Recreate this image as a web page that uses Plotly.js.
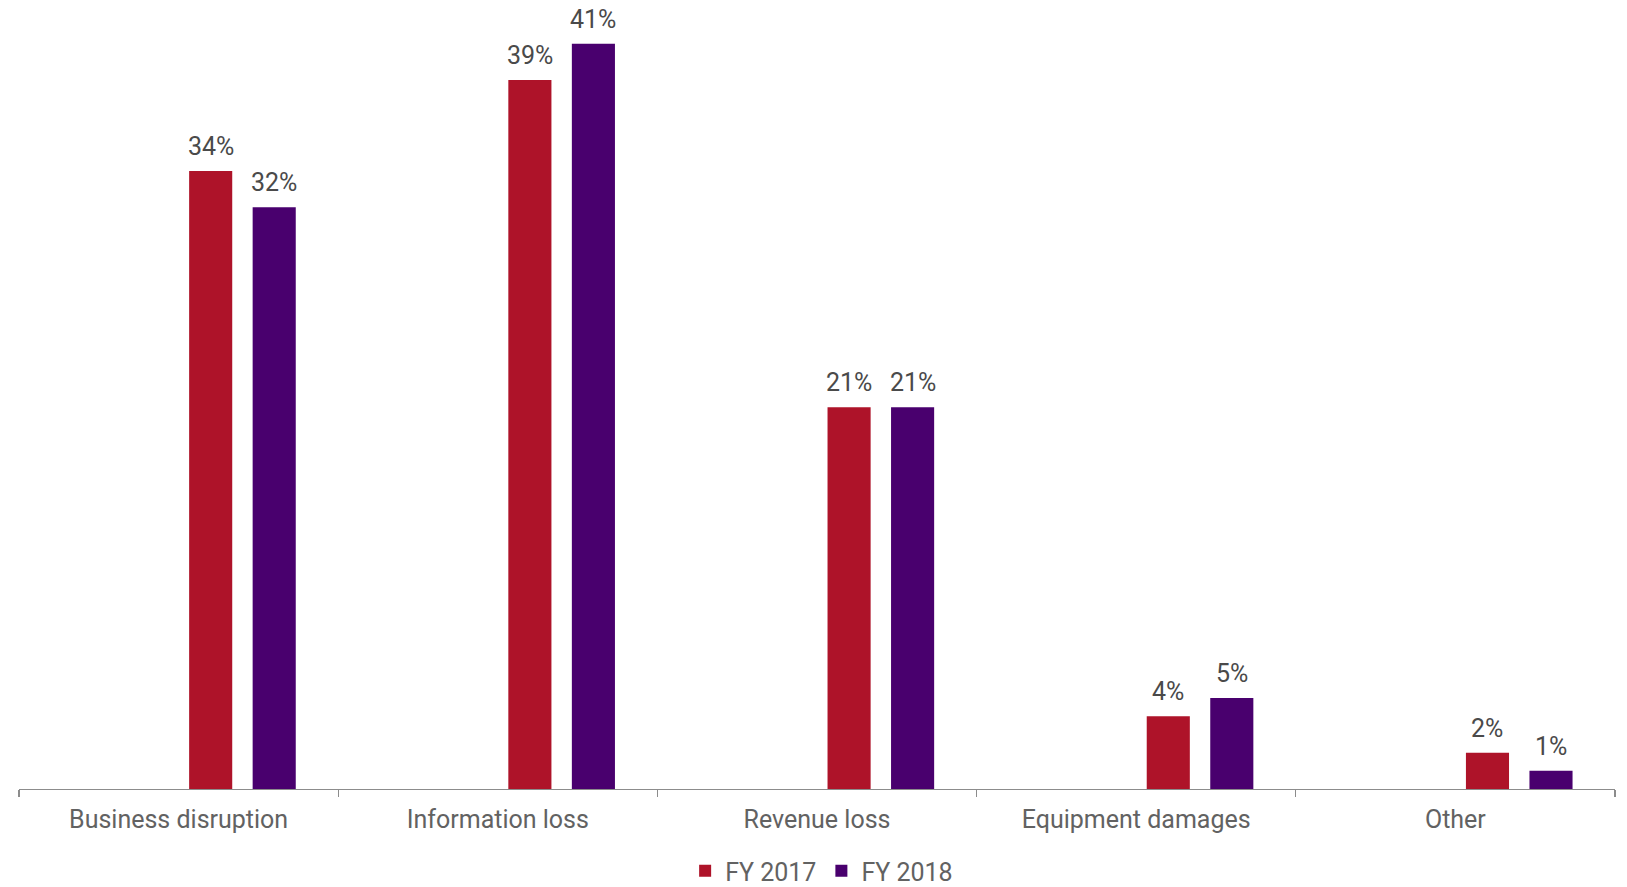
<!DOCTYPE html>
<html>
<head>
<meta charset="utf-8">
<script src="https://cdn.plot.ly/plotly-3.0.1.min.js"></script>
<style>html,body{margin:0;padding:0;background:#fff;}#chart{width:1627px;height:887px;}</style>
</head>
<body>
<div id="chart"></div>
<script>
const categories = ["Business disruption", "Information loss", "Revenue loss", "Equipment damages", "Other"];
const fy2017 = [34, 39, 21, 4, 2];
const fy2018 = [32, 41, 21, 5, 1];
const seriesNames = ["FY 2017", "FY 2018"];
const colors = ["#AE1329", "#49006E"];

const FONT = "Roboto, sans-serif";
const BAR_W = 0.135;
const offsets = [0.033, 0.232];
const series = [fy2017, fy2018];

const traces = series.map((vals, i) => ({
  type: "bar",
  name: seriesNames[i],
  x: categories,
  y: vals,
  width: BAR_W,
  offset: offsets[i],
  marker: {color: colors[i]},
  hoverinfo: "skip"
}));

// value labels placed through the axis scales (category + pixel shift)
const annotations = [];
series.forEach((vals, i) => {
  vals.forEach((v, j) => {
    annotations.push({
      x: categories[j], y: v, xref: "x", yref: "y",
      xshift: 0, text: v + "%", showarrow: false,
      yanchor: "bottom", yshift: 8,
      font: {family: FONT, size: 25, color: "#4a4a4a", weight: 400},
      _series: i
    });
  });
});

const layout = {
  width: 1627, height: 887,
  margin: {l: 19, r: 12, t: 30, b: 98, autoexpand: false},
  paper_bgcolor: "#fff", plot_bgcolor: "#fff",
  barmode: "overlay",
  showlegend: true,
  legend: {orientation: "h", x: 0.505, xanchor: "center", xref: "container",
           y: 0.018, yanchor: "middle", yref: "container",
           font: {family: FONT, size: 25, color: "#626262", weight: 400},
           itemwidth: 30, tracegroupgap: 0, traceorder: "normal"},
  xaxis: {
    type: "category",
    showline: true, linecolor: "#8C8C8C", linewidth: 1.3,
    ticks: "outside", tickson: "boundaries", ticklen: 7, tickcolor: "#8C8C8C", tickwidth: 1.3,
    tickfont: {family: FONT, size: 25, color: "#626262", weight: 400},
    ticklabelstandoff: 8,
    showgrid: false, zeroline: false, automargin: false
  },
  yaxis: {
    range: [0, 41.75], visible: false, showgrid: false, zeroline: false, fixedrange: true
  },
  annotations: [],
  font: {family: FONT}
};

Plotly.newPlot("chart", traces, layout, {displayModeBar: false, staticPlot: true}).then(gd => {
  // convert each series' bar-centre offset into a pixel shift using the axis scale
  const xa = gd._fullLayout.xaxis;
  const pxPerCat = Math.abs(xa.l2p(1) - xa.l2p(0));
  const ann = annotations.map(a => {
    const i = a._series;
    const out = Object.assign({}, a);
    delete out._series;
    out.xshift = (offsets[i] + BAR_W / 2) * pxPerCat;
    return out;
  });
  return Plotly.relayout(gd, {annotations: ann});
});
</script>
</body>
</html>
